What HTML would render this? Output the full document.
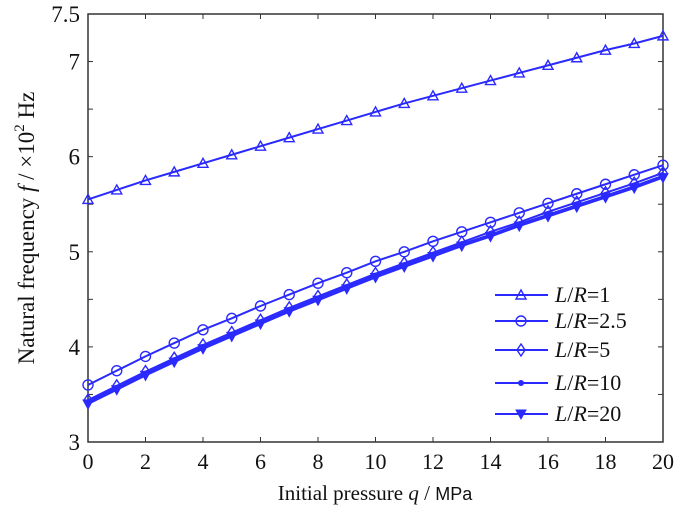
<!DOCTYPE html>
<html><head><meta charset="utf-8"><style>
body{margin:0;background:#fff;}
svg text{font-family:"Liberation Serif",serif;fill:#111;}
</style></head><body>
<svg id="chart" width="685" height="512" xmlns="http://www.w3.org/2000/svg">
<g id="grid"></g>
<g id="series"></g>
<g id="legend"></g>
<text x="375" y="500" font-size="21" text-anchor="middle">Initial pressure <tspan font-style="italic">q</tspan> / <tspan font-family="Liberation Sans" font-size="18">MPa</tspan></text>
<text transform="translate(34,228) rotate(-90)" font-size="23" text-anchor="middle">Natural frequency <tspan font-style="italic">f</tspan> / ×10<tspan dy="-10" font-size="15">2</tspan><tspan dy="10"> Hz</tspan></text>
</svg>
<script>
const qValues=[0,1,2,3,4,5,6,7,8,9,10,11,12,13,14,15,16,17,18,19,20];
const seriesLR1=[5.55,5.65,5.75,5.84,5.93,6.02,6.11,6.20,6.29,6.38,6.47,6.56,6.64,6.72,6.80,6.88,6.96,7.04,7.12,7.19,7.27];
const seriesLR2_5=[3.60,3.75,3.90,4.04,4.18,4.30,4.43,4.55,4.67,4.78,4.90,5.00,5.11,5.21,5.31,5.41,5.51,5.61,5.71,5.81,5.91];
const seriesLR5=[3.44,3.59,3.74,3.88,4.02,4.15,4.28,4.41,4.53,4.65,4.77,4.88,4.99,5.10,5.21,5.31,5.42,5.52,5.62,5.72,5.83];
const seriesLR10=[3.42,3.57,3.72,3.86,4.00,4.13,4.26,4.39,4.51,4.63,4.75,4.86,4.97,5.08,5.18,5.29,5.39,5.49,5.59,5.69,5.80];
const seriesLR20=[3.40,3.55,3.70,3.84,3.98,4.11,4.24,4.37,4.49,4.61,4.73,4.84,4.95,5.06,5.16,5.27,5.37,5.47,5.57,5.67,5.78];
const seriesNames=["L/R=1","L/R=2.5","L/R=5","L/R=10","L/R=20"];
const xTicks=[0,2,4,6,8,10,12,14,16,18,20];
const yTicks=[3,3.5,4,4.5,5,5.5,6,6.5,7,7.5];
const yTickLabels=["3","","4","","5","","6","","7","7.5"];

const L=88,R=663,T=14,B=442;
const xs=v=>L+(v-0)/(20-0)*(R-L);
const ys=v=>B-(v-3)/(7.5-3)*(B-T);
const NS="http://www.w3.org/2000/svg";
function mk(tag,attrs,parent){const e=document.createElementNS(NS,tag);for(const k in attrs)e.setAttribute(k,attrs[k]);parent.appendChild(e);return e;}
const grid=document.getElementById('grid'),ser=document.getElementById('series'),leg=document.getElementById('legend');
const frame=mk('rect',{x:L,y:T,width:R-L,height:B-T,fill:'none',stroke:'#333','stroke-width':1.5},grid);


xTicks.forEach(t=>{
  const x=xs(t);
  mk('line',{x1:x,x2:x,y1:B,y2:B-5,stroke:'#333'},grid);
  mk('line',{x1:x,x2:x,y1:T,y2:T+5,stroke:'#333'},grid);
  const tx=mk('text',{x:x,y:469,'font-size':22,'text-anchor':'middle'},grid);
  tx.textContent=t;
  
  
});
yTicks.forEach((t,i)=>{
  const y=ys(t);
  mk('line',{x1:L,x2:L+5,y1:y,y2:y,stroke:'#333'},grid);
  mk('line',{x1:R,x2:R-5,y1:y,y2:y,stroke:'#333'},grid);
  const tx=mk('text',{x:80,y:y+8,'font-size':23,'text-anchor':'end'},grid);
  tx.textContent=yTickLabels[i];
  
  
});
const BLUE='#2a2aff';
function marker(type,x,y,p){
  if(type==='tri') mk('polygon',{points:`${x},${y-5} ${x-5},${y+4} ${x+5},${y+4}`,fill:'none',stroke:BLUE,'stroke-width':1.4},p);
  else if(type==='circ') mk('circle',{cx:x,cy:y,r:5,fill:'none',stroke:BLUE,'stroke-width':1.4},p);
  else if(type==='dia') mk('polygon',{points:`${x},${y-6} ${x+4},${y} ${x},${y+6} ${x-4},${y}`,fill:'none',stroke:BLUE,'stroke-width':1.4},p);
  else if(type==='star') mk('circle',{cx:x,cy:y,r:3,fill:BLUE},p);
  else mk('polygon',{points:`${x-5},${y-4} ${x+5},${y-4} ${x},${y+5}`,fill:BLUE,stroke:BLUE},p);
}
const all=[seriesLR1,seriesLR2_5,seriesLR5,seriesLR10,seriesLR20];
const types=['tri','circ','dia','star','down'];
const names=['series-lr-1','series-lr-2-5','series-lr-5','series-lr-10','series-lr-20'];
all.forEach((d,si)=>{
  const g=mk('g',{},ser);
  
  
  mk('polyline',{points:d.map((v,i)=>xs(qValues[i])+','+ys(v)).join(' '),fill:'none',stroke:BLUE,'stroke-width':2},g);
  d.forEach((v,i)=>marker(types[si],xs(qValues[i]),ys(v),g));
});
const legY=[295,321,350,383,414];
seriesNames.forEach((n,i)=>{
  const g=mk('g',{},leg);
  
  
  mk('line',{x1:495,x2:548,y1:legY[i],y2:legY[i],stroke:BLUE,'stroke-width':2},g);
  marker(types[i],521,legY[i],g);
  const t=mk('text',{x:555,y:legY[i]+7,'font-size':22},g);
  const parts=n.split('=');
  t.innerHTML='<tspan font-style="italic">L</tspan>/<tspan font-style="italic">R</tspan>='+parts[1];
});
</script>
</body></html>
